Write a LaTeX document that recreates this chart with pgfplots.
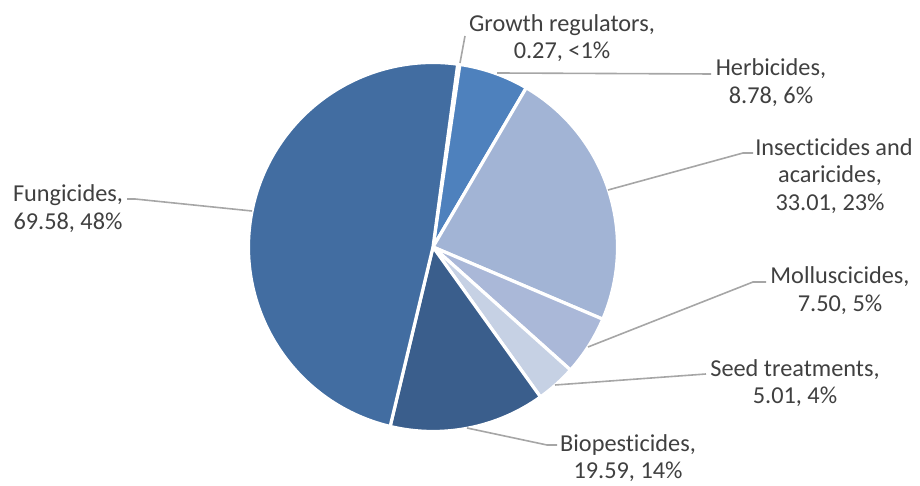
\documentclass[border=0pt]{standalone}
\usepackage{pgfplots}
\usepackage{pgfplotstable}
\pgfplotsset{compat=1.18}
\usepackage{fontspec}
\setmainfont[Ligatures=NoCommon]{Carlito}

\definecolor{s0}{HTML}{3F6CA3}
\definecolor{s1}{HTML}{4E81BD}
\definecolor{s2}{HTML}{A2B4D5}
\definecolor{s3}{HTML}{AAB8D8}
\definecolor{s4}{HTML}{C6D1E4}
\definecolor{s5}{HTML}{3A5E8C}
\definecolor{s6}{HTML}{426DA1}
\definecolor{txt}{HTML}{404040}
\definecolor{lead}{HTML}{A6A6A6}

% slice values, clockwise from the top
\pgfplotstableread{
value
0.27
8.78
33.01
7.50
5.01
19.59
69.58
}\piedata

\newcommand{\lbl}[3]{\node[anchor=base, text=txt, inner sep=0pt] at (axis cs:#1,{486-#2}) {#3};}

\begin{document}
\begin{tikzpicture}
\fontsize{24.3}{27}\selectfont
% total and slice angles
\gdef\total{0}
\foreach \i in {0,...,6}{
  \pgfplotstablegetelem{\i}{value}\of\piedata
  \pgfmathsetmacro\t{\total+\pgfplotsretval}
  \xdef\total{\t}
}
\pgfmathsetmacro\deg{360/\total}
\gdef\cum{0}
\foreach \i in {0,...,6}{
  \pgfplotstablegetelem{\i}{value}\of\piedata
  \pgfmathsetmacro\a{82.3-\cum*\deg}
  \pgfmathsetmacro\c{\cum+\pgfplotsretval}
  \xdef\cum{\c}
  \pgfmathsetmacro\b{82.3-\cum*\deg}
  \expandafter\xdef\csname sa\i\endcsname{\a}
  \expandafter\xdef\csname ea\i\endcsname{\b}
}
\begin{axis}[
    x=1pt, y=1pt,
    xmin=0, xmax=920, ymin=0, ymax=486,
    hide axis, clip=false,
    disabledatascaling,
]
\path (axis cs:0,0) rectangle (axis cs:920,486);

\pgfplotsinvokeforeach{0,...,6}{
  \fill[s#1, draw=white, line width=3.2pt, line join=round]
    (axis cs:433,239) --
    (axis cs:{433+184.5*cos(\csname sa#1\endcsname)},{239+184.5*sin(\csname sa#1\endcsname)})
    arc[start angle=\csname sa#1\endcsname, end angle=\csname ea#1\endcsname, radius=184.5pt]
    -- cycle;
}

% leader lines
\begin{scope}[lead, line width=1.6pt]
\draw (axis cs:460,423) -- (axis cs:465,450);
\draw (axis cs:497,413) -- (axis cs:711,412);
\draw (axis cs:608,296) -- (axis cs:743,333) -- (axis cs:753,333);
\draw (axis cs:588,139) -- (axis cs:753,204) -- (axis cs:766,204);
\draw (axis cs:555,101) -- (axis cs:706,112);
\draw (axis cs:467,58) -- (axis cs:547,41) -- (axis cs:557,41);
\draw (axis cs:252,275) -- (axis cs:135,287) -- (axis cs:127,287);
\end{scope}

% labels
\lbl{562}{32}{Growth regulators,}
\lbl{562}{59}{0.27, <1\%}
\lbl{771}{76}{Herbicides,}
\lbl{771}{104}{8.78, 6\%}
\lbl{834}{156}{Insecticides and}
\lbl{830}{183}{acaricides,}
\lbl{830}{211}{33.01, 23\%}
\lbl{840}{284}{Molluscicides,}
\lbl{840}{312}{7.50, 5\%}
\lbl{795}{377}{Seed treatments,}
\lbl{795}{404}{5.01, 4\%}
\lbl{628}{452}{Biopesticides,}
\lbl{628}{479}{19.59, 14\%}
\lbl{68}{202}{Fungicides,}
\lbl{68}{230}{69.58, 48\%}
\end{axis}
\end{tikzpicture}
\end{document}
